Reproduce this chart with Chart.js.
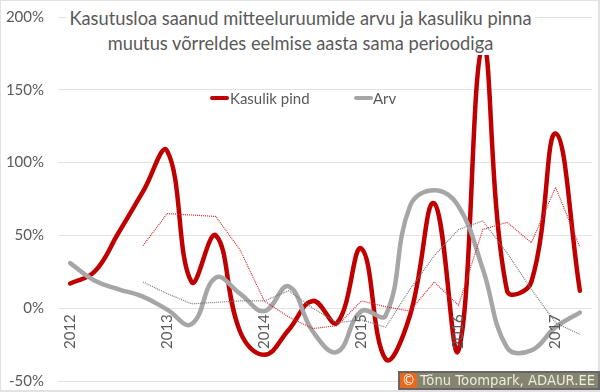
<!DOCTYPE html>
<html>
<head>
<meta charset="utf-8">
<script src="https://cdn.jsdelivr.net/npm/chart.js@4"></script>
<style>
  html, body { margin: 0; background: #fff; }
  #wrap { position: relative; width: 600px; height: 392px; overflow: hidden; font-family: Lato, sans-serif; color: #595959; }
  #frame { position: absolute; left: 0; top: 0; width: 597px; height: 389px; border: 1px solid #e2e2e2; border-width: 1px 2px 2px 1px; }
  #title { position: absolute; left: 66px; top: 6px; width: 469px; height: 49px; background: #fff; text-align: center; font-size: 18.3px; line-height: 25px; }
  #legend { position: absolute; top: 89px; left: 0; font-size: 15px; line-height: 18px; }
  #legend span { position: absolute; white-space: nowrap; }
  #legend i { position: absolute; top: 7px; height: 4px; border-radius: 2px; width: 19px; }
  #badge { position: absolute; left: 398px; top: 371px; width: 198px; height: 15px; border: 2px solid #666; background: #85856f; color: #ecece0; font: 13.2px/15px "DejaVu Sans", sans-serif; white-space: nowrap; overflow: hidden; }
  #badge b { display: inline-block; width: 17px; background: #e8681c; color: #fff; text-align: center; font-weight: normal; margin-right: 3px; }
</style>
</head>
<body>
<div id="wrap">
  <canvas id="chart" width="600" height="392"></canvas>
  <div id="frame"></div>
  <div id="title">Kasutusloa saanud mitteeluruumide arvu ja kasuliku pinna<br>muutus võrreldes eelmise aasta sama perioodiga</div>
  <div id="legend">
    <i style="left:210px;background:#c00000"></i><span style="left:230px">Kasulik pind</span>
    <i style="left:354px;background:#a6a6a6"></i><span style="left:373px">Arv</span>
  </div>
  <div id="badge"><b>©</b>Tõnu Toompark, ADAUR.EE</div>
</div>
<script>
const quarters = ['2012','2012 II','2012 III','2012 IV','2013','2013 II','2013 III','2013 IV','2014','2014 II','2014 III','2014 IV','2015','2015 II','2015 III','2015 IV','2016','2016 II','2016 III','2016 IV','2017','2017 II'];
const pind = [17, 25, 52, 80, 108, 18, 50, -16, -32, -15, 5, -10, 41, -35, -5, 72, -29, 180, 12, 18, 120, 12];
const arv = [31, 19, 13, 8, -1, -11, 21, 10, -2, 15, -16, -30, -2, -5, 70, 81, 70, 27, -27, -29, -13, -3];
const pindAvg = [null, null, null, 43, 65, 64, 63, 40, 5, -6, -14, -12, 5, 1, -2, 18, 2, 54, 59, 45, 83, 42];
const arvAvg = [null, null, null, 18, 10, 3, 4, 5, 5, 12, 0, -10, -8, -13, 13, 36, 54, 60, 38, 13, -10, -18];

// labels may overhang the plot, so the plot box stays where the padding puts it
function noOverhang(s) { s.paddingTop = s.paddingBottom = s.paddingLeft = s.paddingRight = 0; }

new Chart(document.getElementById('chart'), {
  type: 'line',
  data: {
    labels: quarters,
    datasets: [
      { label: 'Kasulik pind keskmine', data: pindAvg, borderColor: '#d9282e', borderWidth: 1.2, borderDash: [1, 1], tension: 0, pointRadius: 0 },
      { label: 'Arv keskmine', data: arvAvg, borderColor: '#777777', borderWidth: 1.2, borderDash: [1, 1], tension: 0, pointRadius: 0 },
      { label: 'Arv', data: arv, borderColor: '#a6a6a6', borderWidth: 4.5, tension: 0.42, pointRadius: 0, borderCapStyle: 'round' },
      { label: 'Kasulik pind', data: pind, borderColor: '#c00000', borderWidth: 4.5, tension: 0.42, pointRadius: 0, borderCapStyle: 'round' },
    ],
  },
  options: {
    responsive: false,
    animation: false,
    layout: { padding: { left: 2, right: 8, top: 17, bottom: 11 } },
    plugins: { legend: { display: false }, tooltip: { enabled: false } },
    scales: {
      x: {
        position: { y: 0 },
        offset: true,
        afterFit: noOverhang,
        grid: { display: false },
        border: { display: false },
        ticks: {
          autoSkip: false, minRotation: 90, maxRotation: 90, padding: -2, z: 1,
          color: '#595959', font: { family: 'Lato', size: 15 },
          callback(v, i) { return i % 4 === 0 ? this.getLabelForValue(v) : ''; },
        },
      },
      y: {
        min: -50, max: 200,
        afterFit(s) { noOverhang(s); s.width = 56; },
        grid: { color: '#e2e2e2', drawTicks: false },
        border: { display: false },
        ticks: {
          stepSize: 50, padding: 14,
          color: '#595959', font: { family: 'Lato', size: 15 },
          callback: v => v + '%',
        },
      },
    },
  },
});
</script>
</body>
</html>
